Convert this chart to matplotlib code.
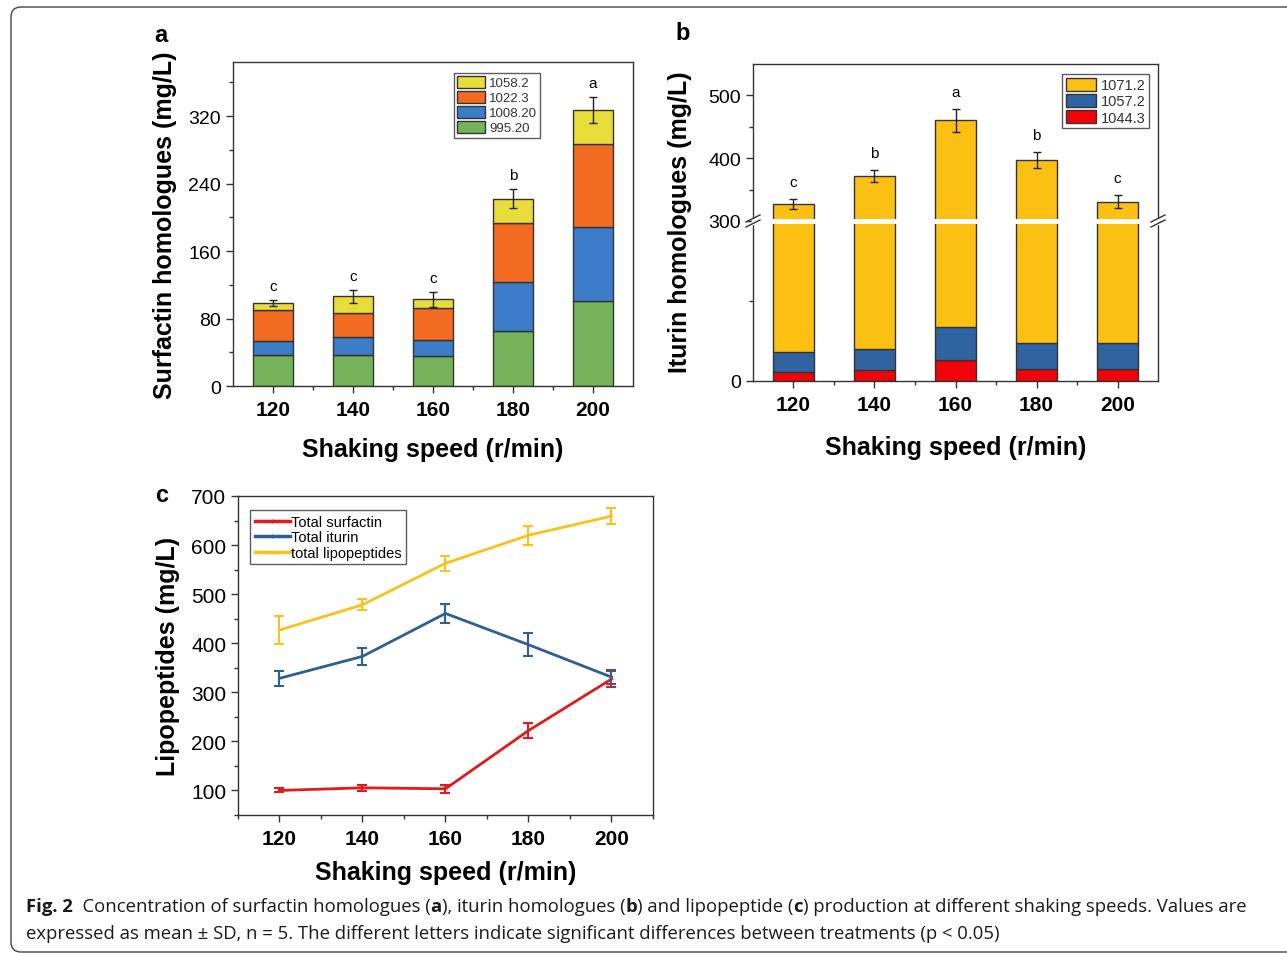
import numpy as np
import matplotlib.pyplot as plt
from matplotlib.patches import FancyBboxPatch
from matplotlib.lines import Line2D
from matplotlib.transforms import IdentityTransform
from matplotlib.ticker import MultipleLocator, FixedLocator

plt.rcParams['font.family'] = ['Liberation Sans', 'DejaVu Sans']

# shaking speeds (r/min)
speeds = ['120', '140', '160', '180', '200']
speed_vals = [120, 140, 160, 180, 200]

# a: surfactin homologues (mg/L)
srf_995 = [37.2, 37.2, 36.0, 65.3, 100.6]
srf_1008 = [16.7, 21.4, 18.7, 57.9, 87.9]
srf_1022 = [35.6, 28.5, 37.2, 70.1, 98.2]
srf_1058 = [8.7, 19.0, 11.1, 28.9, 40.4]
srf_err = [3.5, 7.5, 9.0, 11.5, 15.5]
srf_letters = ['c', 'c', 'c', 'b', 'a']

# b: iturin homologues (mg/L)
itu_1044 = [17.0, 20.1, 40.3, 22.0, 22.0]
itu_1057 = [38.3, 39.0, 61.6, 48.4, 48.4]
itu_1071 = [271.5, 313.2, 358.2, 327.0, 260.6]
itu_err = [8.0, 9.6, 19.0, 13.0, 11.0]
itu_letters = ['c', 'b', 'a', 'b', 'c']

# c: totals (mg/L)
tot_srf = [100.0, 105.4, 103.4, 222.0, 327.0]
tot_srf_err = [4, 6, 8, 15.6, 17]
tot_itu = [328.5, 373.2, 460.7, 397.0, 331.0]
tot_itu_err = [15, 17, 20, 24, 14]
tot_lp = [426.8, 478.3, 563.0, 620.0, 659.0]
tot_lp_err = [28, 11.5, 15, 19, 16]

W, H = 1287, 954
fig = plt.figure(figsize=(W / 100, H / 100), dpi=100)


def px_axes(l, t, r, b):
    return [l / W, 1 - b / H, (r - l) / W, (b - t) / H]


def style_ax(ax):
    for s in ax.spines.values():
        s.set_color('#333333')
        s.set_linewidth(1.0)
    ax.tick_params(which='both', direction='out', color='#333333', top=False, right=False)
    ax.tick_params(which='major', length=5, width=1)
    ax.tick_params(which='minor', length=3, width=1)
    ax.tick_params(axis='y', labelsize=14)
    ax.tick_params(axis='x', labelsize=15, pad=5)
    for lab in ax.get_xticklabels():
        lab.set_fontweight('bold')


edge = '#333333'
x = np.arange(len(speeds))

# ---------------- panel a ----------------
axa = fig.add_axes(px_axes(233, 63, 633, 387))
cols_a = ['#74B35A', '#3B7DC8', '#F26B21', '#E6DC3A']
labs_a = ['995.20', '1008.20', '1022.3', '1058.2']
bottom = np.zeros(5)
for vals, c, lab in zip([srf_995, srf_1008, srf_1022, srf_1058], cols_a, labs_a):
    axa.bar(x, vals, 0.5, bottom=bottom, color=c, edgecolor=edge, linewidth=1, label=lab)
    bottom += np.array(vals)
axa.errorbar(x, bottom, yerr=srf_err, fmt='none', ecolor='#222222', elinewidth=1, capsize=3, capthick=1)
for xi, top, e, let in zip(x, bottom, srf_err, srf_letters):
    axa.annotate(let, (xi, top + e), xytext=(0, 5), textcoords='offset points',
                 ha='center', va='bottom', fontsize=11)
axa.set_xlim(-0.5, 4.5)
axa.set_ylim(0, 384)
axa.yaxis.set_major_locator(MultipleLocator(80))
axa.yaxis.set_minor_locator(MultipleLocator(40))
axa.set_xticks(x)
axa.set_xticklabels(speeds)
axa.xaxis.set_minor_locator(FixedLocator([0.5, 1.5, 2.5, 3.5]))
style_ax(axa)
axa.set_ylabel('Surfactin homologues (mg/L)', fontsize=18, fontweight='bold', labelpad=8)
axa.set_xlabel('Shaking speed (r/min)', fontsize=18, fontweight='bold', labelpad=13)
h, l = axa.get_legend_handles_labels()
leg = axa.legend(h[::-1], l[::-1], loc='upper left', bbox_to_anchor=(0.553, 0.967), fontsize=9.5,
                 frameon=True, fancybox=False, edgecolor='#333333', handlelength=2.1, handleheight=1.0,
                 labelspacing=0.12, borderpad=0.25, handletextpad=0.3, borderaxespad=0)
leg.get_frame().set_linewidth(1)
for t in leg.get_texts():
    t.set_color('#333333')

# ---------------- panel b (broken axis) ----------------
brk = 222
axb_t = fig.add_axes(px_axes(753, 65, 1158, brk))
axb_b = fig.add_axes(px_axes(753, brk, 1158, 382))
cols_b = ['#F0040A', '#2F64A0', '#FCC012']
labs_b = ['1044.3', '1057.2', '1071.2']
for ax in (axb_t, axb_b):
    bottom = np.zeros(5)
    for vals, c, lab in zip([itu_1044, itu_1057, itu_1071], cols_b, labs_b):
        ax.bar(x, vals, 0.5, bottom=bottom, color=c, edgecolor=edge, linewidth=1, label=lab)
        bottom += np.array(vals)
    ax.set_xlim(-0.5, 4.5)
itu_tot = bottom
axb_t.errorbar(x, itu_tot, yerr=itu_err, fmt='none', ecolor='#222222', elinewidth=1, capsize=3, capthick=1)
for xi, top, e, let in zip(x, itu_tot, itu_err, itu_letters):
    axb_t.annotate(let, (xi, top + e), xytext=(0, 7), textcoords='offset points',
                   ha='center', va='bottom', fontsize=11)
axb_t.set_ylim(300, 550)
axb_t.yaxis.set_major_locator(FixedLocator([300, 400, 500]))
axb_t.yaxis.set_minor_locator(FixedLocator([350, 450]))
axb_b.set_ylim(0, 300)
axb_b.yaxis.set_major_locator(FixedLocator([0]))
axb_b.yaxis.set_minor_locator(FixedLocator([150]))
axb_b.set_xticks(x)
axb_b.set_xticklabels(speeds)
axb_b.xaxis.set_minor_locator(FixedLocator([0.5, 1.5, 2.5, 3.5]))
style_ax(axb_t)
style_ax(axb_b)
axb_t.spines['bottom'].set_visible(False)
axb_t.tick_params(axis='x', which='both', bottom=False, labelbottom=False)
axb_b.spines['top'].set_visible(False)
axb_b.set_xlabel('Shaking speed (r/min)', fontsize=18, fontweight='bold', labelpad=15)
fig.text(680 / W, 1 - 222 / H, 'Iturin homologues (mg/L)', rotation=90, fontsize=18,
         fontweight='bold', ha='center', va='center')
h, l = axb_t.get_legend_handles_labels()
leg = axb_t.legend(h[::-1], l[::-1], loc='upper left', bbox_to_anchor=(0.763, 0.936), fontsize=10.5,
                   frameon=True, fancybox=False, edgecolor='#333333', handlelength=2.1, handleheight=1.0,
                   labelspacing=0.12, borderpad=0.25, handletextpad=0.3, borderaxespad=0)
leg.get_frame().set_linewidth(1)
for t in leg.get_texts():
    t.set_color('#333333')

# white gap across the bars and break marks on the spines
yb = 1 - brk / H
fig.add_artist(Line2D([755 / W, 1156 / W], [yb, yb], color='white', lw=3.5,
                      transform=fig.transFigure, zorder=5))
for xs in (753, 1158):
    for d in (-2.5, 2.5):
        fig.add_artist(Line2D([(xs - 7) / W, (xs + 7) / W], [yb + (d - 3.5) / H, yb + (d + 3.5) / H],
                              color='#333333', lw=1, transform=fig.transFigure, zorder=6))
    fig.add_artist(Line2D([xs / W, xs / W], [yb - 1.5 / H, yb + 1.5 / H], color='white', lw=2.5,
                          transform=fig.transFigure, zorder=5.5))

# ---------------- panel c ----------------
axc = fig.add_axes(px_axes(238, 497, 653, 816))
lines_c = [(tot_srf, tot_srf_err, '#E31A1C', 'Total surfactin'),
           (tot_itu, tot_itu_err, '#2E5E94', 'Total iturin'),
           (tot_lp, tot_lp_err, '#F9C21A', 'total lipopeptides')]
handles_c = []
for vals, err, c, lab in lines_c:
    axc.errorbar(speed_vals, vals, yerr=err, color=c, lw=2, elinewidth=1.5, capsize=3.5,
                 capthick=1.5)
    handles_c.append(Line2D([], [], color=c, lw=2.5, marker='+', markersize=3, label=lab))
axc.set_xlim(110, 210)
axc.set_ylim(50, 700)
axc.set_xticks(speed_vals)
axc.xaxis.set_minor_locator(FixedLocator([110, 130, 150, 170, 190, 210]))
axc.yaxis.set_major_locator(MultipleLocator(100))
axc.yaxis.set_minor_locator(MultipleLocator(50))
style_ax(axc)
axc.tick_params(axis='y', labelsize=15)
axc.set_ylabel('Lipopeptides (mg/L)', fontsize=18, fontweight='bold', labelpad=8)
axc.set_xlabel('Shaking speed (r/min)', fontsize=18, fontweight='bold', labelpad=9)
leg = axc.legend(handles=handles_c, loc='upper left', bbox_to_anchor=(0.03, 0.955), fontsize=10.5,
                 frameon=True, fancybox=False, edgecolor='#333333', handlelength=2.4, labelspacing=0.1,
                 borderpad=0.3, handletextpad=0.1, borderaxespad=0)
leg.get_frame().set_linewidth(1)

# panel letters
fig.text(161 / W, 1 - 35 / H, 'a', fontsize=17, fontweight='bold', ha='center', va='center')
fig.text(683 / W, 1 - 34 / H, 'b', fontsize=17, fontweight='bold', ha='center', va='center')
fig.text(162 / W, 1 - 496 / H, 'c', fontsize=17, fontweight='bold', ha='center', va='center')

# frame around the figure
frame = FancyBboxPatch((11, 1), 1400, 945, boxstyle='round,pad=0,rounding_size=10',
                       transform=IdentityTransform(), fill=False, edgecolor='#444444', lw=1)
fig.add_artist(frame)

# caption, written piece by piece so some parts can be bold
cap_font = ['Open Sans', 'DejaVu Sans']
cap_size = 13.3
fig.canvas.draw()
renderer = fig.canvas.get_renderer()


def caption_line(pieces, x0, y):
    xp = x0
    for txt, bold in pieces:
        t = fig.text(xp / W, 1 - y / H, txt, family=cap_font, fontsize=cap_size,
                     fontweight='bold' if bold else 'normal', va='center', ha='left', color='#1a1a1a')
        bb = t.get_window_extent(renderer)
        xp = bb.x1


caption_line([('Fig. 2', True), ('  Concentration of surfactin homologues (', False), ('a', True),
              ('), iturin homologues (', False), ('b', True), (') and lipopeptide (', False),
              ('c', True), (') production at different shaking speeds. Values are', False)], 26, 907)
caption_line([('expressed as mean \u00b1 SD, n = 5. The different letters indicate significant '
               'differences between treatments (p < 0.05)', False)], 26, 934)

fig.savefig('out.png', dpi=100)
